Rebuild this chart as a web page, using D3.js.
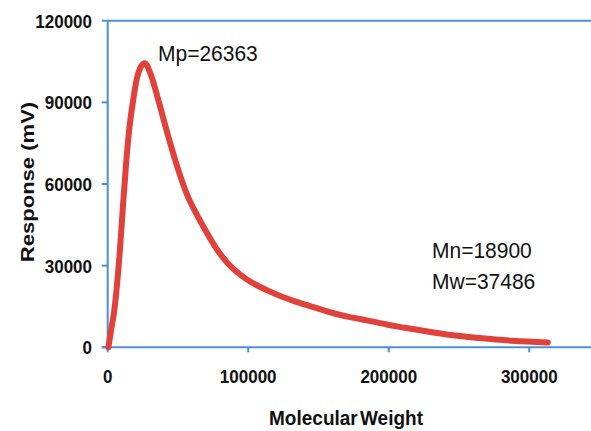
<!DOCTYPE html>
<html>
<head>
<meta charset="utf-8">
<script src="https://cdn.jsdelivr.net/npm/d3@7"></script>
<style>
  body { margin: 0; background: #fff; }
  text { font-family: "Liberation Sans", Arial, sans-serif; }
</style>
</head>
<body>
<script>
// molecular weight (x) and detector response in mV (y)
var molWeight = [500, 2400, 4500, 6600, 8800, 10900, 13000, 15100, 18000, 20800,
                 23700, 26363, 30400, 36100, 42500, 49600, 56700, 62100, 69300, 76400,
                 85600, 97700, 113200, 124600, 136700, 148800, 160100, 172200, 184300,
                 195700, 206400, 217100, 241300, 264800, 288300, 313200];
var response = [0, 6300, 12800, 22900, 36400, 52200, 66900, 79000, 90400, 98800,
                103200, 104400, 100600, 90700, 78600, 66200, 55800, 50000, 43200, 37000,
                30800, 25400, 21000, 18500, 16300, 14400, 12600, 11100, 9900,
                8700, 7600, 6700, 4700, 3400, 2400, 1800];
var xTicks = [0, 100000, 200000, 300000];
var yTicks = [0, 30000, 60000, 90000, 120000];
var notes = ["Mp=26363", "Mn=18900", "Mw=37486"];

var w = 591, h = 431,
    blue = "#4a90d4",
    red = "#e0413b",
    stretch = 1.1; // source text is a bit taller than wide

var x = d3.scaleLinear().domain([0, 350000]).range([107.7, 599.5]);
var y = d3.scaleLinear().domain([0, 120000]).range([347.3, 20.7]);

var svg = d3.select("body").append("svg")
    .attr("width", w)
    .attr("height", h);

// plot frame: left, top, bottom
svg.append("line")
    .attr("x1", x(0)).attr("x2", x(0))
    .attr("y1", y(120000)).attr("y2", y(0))
    .attr("stroke", blue).attr("stroke-width", 2);
svg.append("line")
    .attr("x1", x(0)).attr("x2", w)
    .attr("y1", y(120000)).attr("y2", y(120000))
    .attr("stroke", blue).attr("stroke-width", 2);
svg.append("line")
    .attr("x1", x(0) - 6).attr("x2", w)
    .attr("y1", y(0)).attr("y2", y(0))
    .attr("stroke", blue).attr("stroke-width", 2);

// ticks
svg.selectAll("line.ytick")
    .data(yTicks)
  .enter().append("line")
    .attr("class", "ytick")
    .attr("x1", x(0) - 6).attr("x2", x(0))
    .attr("y1", function(d) { return y(d); })
    .attr("y2", function(d) { return y(d); })
    .attr("stroke", blue).attr("stroke-width", 2);

svg.selectAll("line.xtick")
    .data(xTicks)
  .enter().append("line")
    .attr("class", "xtick")
    .attr("x1", function(d) { return x(d); })
    .attr("x2", function(d) { return x(d); })
    .attr("y1", y(0)).attr("y2", y(0) + 5)
    .attr("stroke", blue).attr("stroke-width", 2);

// tick labels
svg.selectAll("text.ylab")
    .data(yTicks)
  .enter().append("text")
    .attr("class", "ylab")
    .attr("transform", function(d) {
        return "translate(92," + (y(d) + 7) + ") scale(1," + stretch + ")";
    })
    .attr("text-anchor", "end")
    .attr("font-size", 17)
    .attr("font-weight", "bold")
    .attr("fill", "#111")
    .text(function(d) { return d; });

svg.selectAll("text.xlab")
    .data(xTicks)
  .enter().append("text")
    .attr("class", "xlab")
    .attr("transform", function(d) {
        return "translate(" + x(d) + ",383) scale(1," + stretch + ")";
    })
    .attr("text-anchor", "middle")
    .attr("font-size", 17)
    .attr("font-weight", "bold")
    .attr("fill", "#111")
    .text(function(d) { return d; });

// axis titles
svg.append("text")
    .attr("transform", "translate(346,425) scale(1," + stretch + ")")
    .attr("text-anchor", "middle")
    .attr("font-size", 19)
    .attr("font-weight", "bold")
    .attr("word-spacing", -3)
    .attr("fill", "#111")
    .text("Molecular Weight");

svg.append("text")
    .attr("transform", "translate(34,182) rotate(-90) scale(1.16,1)")
    .attr("text-anchor", "middle")
    .attr("font-size", 19)
    .attr("font-weight", "bold")
    .attr("fill", "#111")
    .text("Response (mV)");

// the trace
var line = d3.line()
    .x(function(d, i) { return x(molWeight[i]); })
    .y(function(d) { return y(d); })
    .curve(d3.curveMonotoneX);

svg.append("path")
    .datum(response)
    .attr("d", line)
    .attr("fill", "none")
    .attr("stroke", red)
    .attr("stroke-width", 6)
    .attr("stroke-linejoin", "round")
    .attr("stroke-linecap", "round");

// annotations
var notePos = [[158, 60.7], [432, 258.3], [432, 289]];
svg.selectAll("text.note")
    .data(notes)
  .enter().append("text")
    .attr("class", "note")
    .attr("transform", function(d, i) {
        return "translate(" + notePos[i][0] + "," + notePos[i][1] + ") scale(1,1.06)";
    })
    .attr("font-size", 21)
    .attr("fill", "#111")
    .text(function(d) { return d; });
</script>
</body>
</html>
